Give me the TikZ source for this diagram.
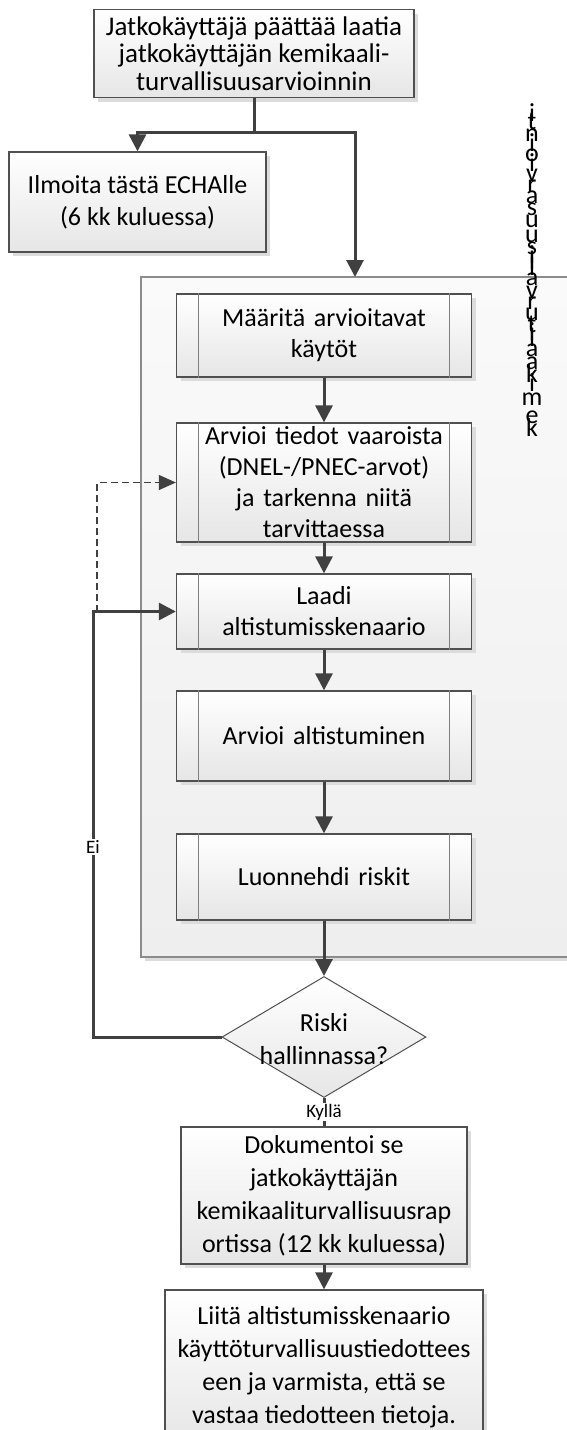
\documentclass[tikz,border=0pt]{standalone}
\usepackage{fontspec}
\setmainfont{Carlito}
\usetikzlibrary{arrows.meta,shapes.geometric,shadows}

\definecolor{edge}{HTML}{505050}
\definecolor{bar}{HTML}{7F7F7F}
\definecolor{conn}{HTML}{404040}
\definecolor{shade}{HTML}{DCDCDC}
\definecolor{boxbot}{HTML}{E6E6E6}
\definecolor{framec}{HTML}{8C8C8C}
\definecolor{frametop}{HTML}{FAFAFA}
\definecolor{framebot}{HTML}{EEEEEE}

\tikzset{
  shd/.style={drop shadow={shadow xshift=4pt,shadow yshift=-4pt,fill=shade,opacity=1}},
  task/.style={draw=edge,line width=1.3pt,top color=white,bottom color=boxbot,shd,
    align=center,inner sep=0pt,font=\fontsize{26}{32}\selectfont},
  proc/.style={task,minimum width=295pt,text width=245pt,font=\fontsize{26}{31}\selectfont},
  csaframe/.style={draw=framec,line width=1.5pt,top color=frametop,bottom color=framebot,shd,
    minimum width=479pt,minimum height=680pt,inner sep=0pt},
  decision/.style={diamond,draw=edge,line width=1pt,top color=white,bottom color=boxbot,
    minimum width=204pt,minimum height=121pt,inner sep=0pt},
  txt/.style={align=center,inner sep=0pt,font=\fontsize{26}{33}\selectfont},
  lbl/.style={fill=white,inner sep=1pt,font=\fontsize{19}{22}\selectfont},
  vlet/.style={anchor=base,inner sep=0pt,font=\fontsize{26}{26}\selectfont},
  line/.style={draw=conn,line width=3pt},
  arr/.style={line,-{Triangle[length=17pt,width=17pt]}},
  dasharr/.style={draw=conn,line width=1.2pt,dash pattern=on 7pt off 4pt,
    -{Triangle[length=17pt,width=15pt]}},
  barline/.style={draw=bar,line width=1.2pt}
}

\begin{document}
\begin{tikzpicture}[x=1pt,y=-1pt]
  \useasboundingbox (0,0) rectangle (567,1430);
  \clip (0,0) rectangle (567,1430);

  % frame round the assessment
  \node[csaframe] (csa) at (380.5,617) {};

  % start
  \node[task,minimum width=320pt,minimum height=88pt,font=\fontsize{27}{27.5}\selectfont] (start) at (254,53.5)
    {Jatkokäyttäjä päättää laatia\\jatkokäyttäjän kemikaali-\\turvallisuusarvioinnin};
  \node[task,minimum width=257pt,minimum height=100pt] (echa) at (137.5,202)
    {Ilmoita tästä ECHAlle\\(6 kk kuluessa)};

  % steps inside the frame
  \node[proc,minimum height=83pt] (uses) at (324,335.5) {Määritä arvioitavat\\käytöt};
  \node[proc,minimum height=119pt] (haz) at (324,482.5)
    {Arvioi tiedot vaaroista\\(DNEL-/PNEC-arvot)\\ja tarkenna niitä\\tarvittaessa};
  \node[proc,minimum height=75pt] (scen) at (324,611.5) {Laadi\\altistumisskenaario};
  \node[proc,minimum height=90pt] (expo) at (324,736) {Arvioi altistuminen};
  \node[proc,minimum height=86pt] (char) at (324,877) {Luonnehdi riskit};
  \foreach \n in {uses,haz,scen,expo,char} {
    \draw[barline] ([xshift=23pt]\n.north west) -- ([xshift=23pt]\n.south west);
    \draw[barline] ([xshift=-23pt]\n.north east) -- ([xshift=-23pt]\n.south east);
  }

  % decision and end
  \node[decision] (risk) at (324,1037) {};
  \node[txt] (risktxt) at (324,1039) {Riski\\hallinnassa?};
  \node[task,minimum width=286pt,minimum height=137pt,font=\fontsize{26}{33}\selectfont] (doc) at (324,1195.5)
    {Dokumentoi se\\jatkokäyttäjän\\kemikaaliturvallisuusrap\\ortissa (12 kk kuluessa)};
  \node[task,minimum width=318pt,minimum height=155pt,font=\fontsize{26}{33}\selectfont] (sds) at (324,1367.5)
    {Liitä altistumisskenaario\\käyttöturvallisuustiedottees\\een ja varmista, että se\\vastaa tiedotteen tietoja.};

  % connectors
  \coordinate (fork) at (254,132);
  \coordinate (csain) at (355,277);
  \draw[line] (start.south) -- (fork);
  \draw[arr] (fork) -| (echa.north);
  \draw[arr] (fork) -| (csain);
  \draw[arr] (uses.south) -- (haz.north);
  \draw[arr] (haz.south) -- (scen.north);
  \draw[arr] (scen.south) -- (expo.north);
  \draw[arr] (expo.south) -- (char.north);
  \draw[arr] (char.south) -- (risk.north);
  \draw[line] (risk.south) -- (doc.north) node[midway,lbl] (yes) {Kyllä};
  \draw[arr] (doc.south) -- (sds.north);
  \coordinate (dashfoot) at (97,612);
  \draw[dasharr] (dashfoot) |- (haz.west);
  \coordinate (back) at (93,611.5);
  \draw[arr] (risk.west) -| (back) -- (scen.west);
  \node[lbl] (no) at (93,847) {Ei};

  % stacked letters at the right, each one as far down as it is wide
  \foreach \ch/\w [count=\k, remember=\nxt as \cur (initially 0), evaluate={\nxt=\cur+\w}] in
    {i/.229,t/.335,n/.525,i/.229,o/.527,i/.229,v/.452,r/.349,a/.479,s/.391,
     u/.525,u/.525,s/.391,i/.229,l/.229,l/.229,a/.479,v/.452,r/.349,u/.525,
     t/.335,i/.229,l/.229,a/.479,a/.479,k/.455,i/.229,m/.799,e/.498,k/.455}
    \node[vlet] (v\k) at (532,{118.5+27.3*(\cur+\w/2)}) {\ch};
\end{tikzpicture}
\end{document}
